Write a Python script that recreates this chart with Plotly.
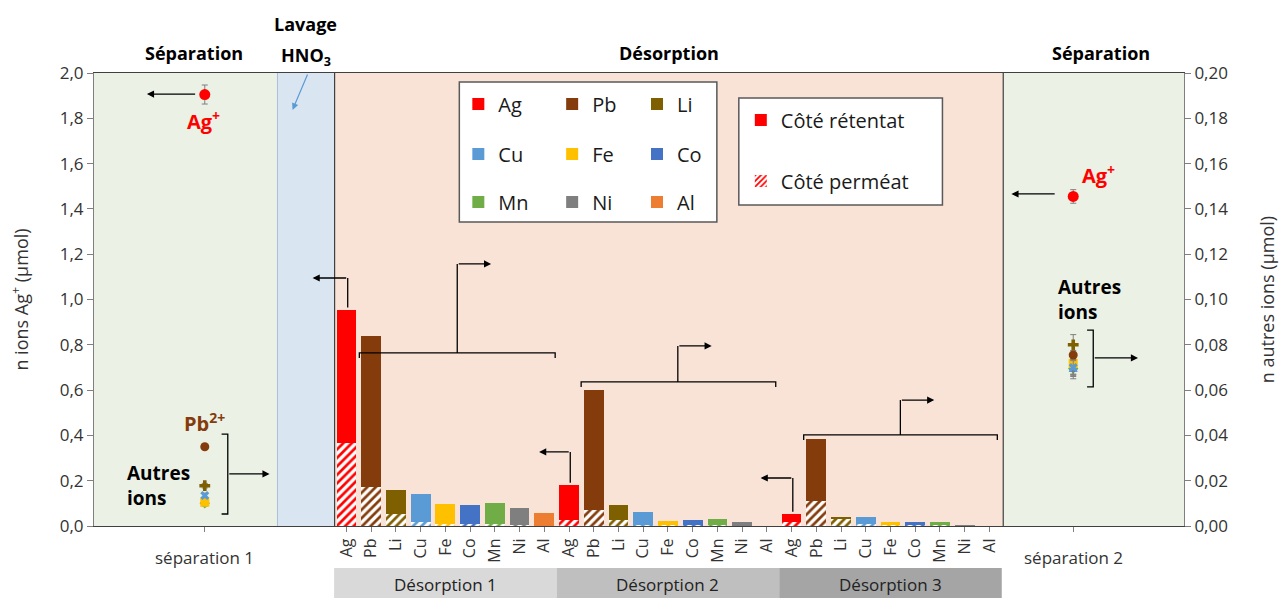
import plotly.graph_objects as go

# ---------------- data ----------------
ions = ["Ag", "Pb", "Li", "Cu", "Fe", "Co", "Mn", "Ni", "Al"]
ion_colors = ["#ff0000", "#843c0c", "#7f6000", "#5b9bd5", "#ffc000",
              "#4472c4", "#70ad47", "#7f7f7f", "#ed7d31"]
desorptions = ["Désorption 1", "Désorption 2", "Désorption 3"]
band_colors = ["#d9d9d9", "#bfbfbf", "#a5a5a5"]

# Ag in µmol on the left axis, other ions in µmol on the right axis
retentate_d1 = [0.589, 0.0665, 0.0107, 0.0121, 0.0087, 0.0081, 0.0092, 0.0076, 0.0059]
permeate_d1 = [0.366, 0.0174, 0.0052, 0.0019, 0.0010, 0.0010, 0.0010, 0.0005, 0.0]
retentate_d2 = [0.155, 0.0527, 0.0068, 0.0055, 0.0019, 0.0022, 0.0027, 0.0016, 0.0]
permeate_d2 = [0.026, 0.0072, 0.0025, 0.0005, 0.0003, 0.0003, 0.0003, 0.0, 0.0]
retentate_d3 = [0.035, 0.0274, 0.0010, 0.0030, 0.0013, 0.0013, 0.0015, 0.0004, 0.0]
permeate_d3 = [0.018, 0.0110, 0.0030, 0.0010, 0.0003, 0.0003, 0.0003, 0.0, 0.0]

sep1_vals = [1.905, 0.0350, 0.0178, 0.0135, 0.0105, 0.0110, 0.0100, 0.0103, 0.0098]
sep1_err = [0.042, 0.0008, 0.0010, 0.0010, 0.0010, 0.0010, 0.0010, 0.0010, 0.0010]
sep2_vals = [1.455, 0.0755, 0.0800, 0.0700, 0.0718, 0.0690, 0.0695, 0.0700, 0.0700]
sep2_err = [0.030, 0.0020, 0.0045, 0.0030, 0.0030, 0.0030, 0.0030, 0.0030, 0.0050]
sep_labels = ["séparation 1", "séparation 2"]
marker_symbols = ["circle", "circle", "cross", "x", "square", "triangle-up",
                  "diamond", "circle", "triangle-up"]
marker_sizes = [11, 9, 9, 8, 9, 8, 8, 6, 6]

retentate = [retentate_d1, retentate_d2, retentate_d3]
permeate = [permeate_d1, permeate_d2, permeate_d3]

# ---------------- layout constants (x in "bar slot" units) ----------------
n_ions = len(ions)
X_RANGE = [-10.21, 33.87]
SEP1_X, SEP2_X = -5.73, 29.39
REG_SEP1 = [-10.21, -2.79]
REG_LAV = [-2.79, -0.48]
REG_DES = [-0.48, 26.56]
REG_SEP2 = [26.56, 33.87]
FONT = "Open Sans"
PLOT_L, PLOT_R, PLOT_T, PLOT_B = 94, 1186, 73, 526
W, H = 1287, 598


def px_x(px):
    return (px - PLOT_L) / (PLOT_R - PLOT_L)


def px_y(py):
    return (PLOT_B - py) / (PLOT_B - PLOT_T)


fig = go.Figure()

# ---------------- bars ----------------
for i, ion in enumerate(ions):
    xs = [d * n_ions + i for d in range(len(desorptions))]
    perm = [permeate[d][i] for d in range(len(desorptions))]
    ret = [retentate[d][i] for d in range(len(desorptions))]
    yax = "y" if i == 0 else "y2"
    fig.add_trace(go.Bar(
        x=xs, y=perm, base=[0] * len(xs), width=0.8, yaxis=yax,
        marker=dict(color="white", line=dict(width=0),
                    pattern=dict(shape="/", fgcolor=ion_colors[i], bgcolor="white",
                                 size=6, solidity=0.45, fillmode="replace")),
        showlegend=False, name=ion + " perméat"))
    fig.add_trace(go.Bar(
        x=xs, y=ret, base=perm, width=0.8, yaxis=yax,
        marker=dict(color=ion_colors[i], line=dict(width=0)),
        name=ion, legend="legend" if i == 0 else "legend%d" % (i + 1),
        showlegend=True))

# legend-only traces for the side (rétentat / perméat)
fig.add_trace(go.Bar(x=[None], y=[None], name="Côté rétentat",
                     marker=dict(color="#ff0000", line=dict(width=0)),
                     legend="legend10", showlegend=True))
fig.add_trace(go.Bar(x=[None], y=[None], name="Côté perméat",
                     marker=dict(color="white", line=dict(width=0),
                                 pattern=dict(shape="/", fgcolor="#ff0000", bgcolor="white",
                                              size=5, solidity=0.45, fillmode="replace")),
                     legend="legend11", showlegend=True))

# ---------------- separation points ----------------
for i in reversed(range(n_ions)):
    yax = "y" if i == 0 else "y2"
    fig.add_trace(go.Scatter(
        x=[SEP1_X, SEP2_X], y=[sep1_vals[i], sep2_vals[i]], yaxis=yax,
        mode="markers",
        marker=dict(symbol=marker_symbols[i], size=marker_sizes[i], color=ion_colors[i],
                    line=dict(width=0)),
        error_y=dict(type="data", array=[sep1_err[i], sep2_err[i]], color="#808080",
                     thickness=1, width=3),
        showlegend=False))

# ---------------- shapes ----------------
shapes = []
regions = [(REG_SEP1, "#ebf1e5"), (REG_LAV, "#dae5f2"),
           (REG_DES, "#f9e3d6"), (REG_SEP2, "#ebf1e5")]
for (x0, x1), fc in regions:
    shapes.append(dict(type="rect", xref="x", yref="paper", x0=x0, x1=x1, y0=0, y1=1,
                       fillcolor=fc, line=dict(width=0), layer="below"))
for xv in [REG_DES[0], REG_DES[1]]:
    shapes.append(dict(type="line", xref="x", yref="paper", x0=xv, x1=xv, y0=0, y1=1,
                       line=dict(color="#404040", width=1.2), layer="below"))
shapes.append(dict(type="line", xref="x", yref="paper", x0=REG_LAV[0], x1=REG_LAV[0],
                   y0=0, y1=1, line=dict(color="#a9bfd9", width=1), layer="below"))

# bottom bands
for d, lab in enumerate(desorptions):
    shapes.append(dict(type="rect", xref="x", yref="paper",
                       x0=d * n_ions - 0.5, x1=(d + 1) * n_ions - 0.5,
                       y0=px_y(598), y1=px_y(568),
                       fillcolor=band_colors[d], line=dict(width=0), layer="below"))

# legend boxes
shapes.append(dict(type="rect", xref="paper", yref="paper", x0=px_x(460), x1=px_x(718),
                   y0=px_y(222), y1=px_y(82), fillcolor="white",
                   line=dict(color="#595959", width=1.5)))
shapes.append(dict(type="rect", xref="paper", yref="paper", x0=px_x(740), x1=px_x(944),
                   y0=px_y(205), y1=px_y(98), fillcolor="white",
                   line=dict(color="#595959", width=1.5)))

LINE = dict(color="#000000", width=1.3)
tk = 0.022
# separation 1 bracket
shapes.append(dict(type="path", xref="x", yref="y",
                   path="M -5.05,0.406 L -4.80,0.406 L -4.80,0.053 L -5.05,0.053", line=LINE))
# separation 2 bracket
shapes.append(dict(type="path", xref="x", yref="y",
                   path="M 29.95,0.865 L 30.20,0.865 L 30.20,0.614 L 29.95,0.614", line=LINE))
# desorption brackets (horizontal) with vertical stem
brackets = [(0.52, 8.44, 0.764, 4.48, 1.157), (9.49, 17.36, 0.636, 13.40, 0.795),
            (18.49, 26.32, 0.402, 22.40, 0.556)]
for x0, x1, yb, xc, yt in brackets:
    shapes.append(dict(type="path", xref="x", yref="y",
                       path="M %f,%f L %f,%f L %f,%f L %f,%f" % (x0, yb - tk, x0, yb, x1, yb, x1, yb - tk),
                       line=LINE))
    shapes.append(dict(type="line", xref="x", yref="y", x0=xc, x1=xc, y0=yb, y1=yt, line=LINE))
# Ag elbow stems in desorption
ag_stems = [(0, 1.095), (9, 0.327), (18, 0.212)]
for d, (xa, yt) in enumerate(ag_stems):
    top = retentate[d][0] + permeate[d][0]
    shapes.append(dict(type="line", xref="x", yref="y", x0=xa + 0.05, x1=xa + 0.05,
                       y0=top + 0.01, y1=yt, line=LINE))

fig.update_layout(shapes=shapes)

# ---------------- annotations ----------------
ann = []


def arrow(x, y, ax, ay, color="#000000", width=1.3):
    ann.append(dict(x=x, y=y, ax=ax, ay=ay, xref="x", yref="y", axref="x", ayref="y",
                    text="", showarrow=True, arrowhead=2, arrowsize=1.1,
                    arrowwidth=width, arrowcolor=color))


arrow(-8.07, 1.907, -6.06, 1.907)
arrow(-3.11, 0.230, -4.80, 0.230)
arrow(-1.37, 1.095, 0.05, 1.095)
arrow(7.79, 0.327, 9.05, 0.327)
arrow(16.75, 0.212, 18.05, 0.212)
for x0, x1, yb, xc, yt in brackets:
    arrow(xc + 1.37, yt, xc, yt)
arrow(26.89, 1.466, 28.70, 1.466)
arrow(32.01, 0.742, 30.20, 0.742)
arrow(-2.18, 1.837, -1.55, 2.0, color="#5b9bd5", width=1.2)


def text(x, y, s, size=19, color="#000000", xref="x", yref="y", xanchor="center",
         yanchor="middle", align="center"):
    ann.append(dict(x=x, y=y, xref=xref, yref=yref, text=s, showarrow=False,
                    font=dict(family=FONT, size=size, color=color),
                    xanchor=xanchor, yanchor=yanchor, align=align))


text(-5.77, 1.79, "<b>Ag<sup>+</sup></b>", size=20, color="#ff0000")
text(-5.73, 0.459, "<b>Pb<sup>2+</sup></b>", size=20, color="#843c0c")
text(-8.96, 0.18, "<b>Autres<br>ions</b>", size=19, xanchor="left", align="left")
text(30.4, 1.55, "<b>Ag<sup>+</sup></b>", size=20, color="#ff0000")
text(28.7, 0.998, "<b>Autres<br>ions</b>", size=19, xanchor="left", align="left")

# top titles
text(-6.15, px_y(53), "<b>Séparation</b>", size=18, yref="paper")
text(-1.65, px_y(24), "<b>Lavage</b>", size=18, yref="paper")
text(-1.65, px_y(56), "<b>HNO<sub>3</sub></b>", size=18, yref="paper")
text(13.05, px_y(53), "<b>Désorption</b>", size=18, yref="paper")
text(30.5, px_y(53), "<b>Séparation</b>", size=18, yref="paper")

# bottom labels
text(SEP1_X, px_y(557), sep_labels[0], size=17, yref="paper", color="#333333")
text(SEP2_X, px_y(557), sep_labels[1], size=17, yref="paper", color="#333333")
for d, lab in enumerate(desorptions):
    text(d * n_ions + (n_ions - 1) / 2, px_y(584), lab, size=17, yref="paper", color="#222222")

fig.update_layout(annotations=ann)

# ---------------- legends ----------------
swatch_x = [479, 573, 658]
row_y = [104, 154, 202]
legends = {}
for i in range(n_ions):
    r, c = divmod(i, 3)
    key = "legend" if i == 0 else "legend%d" % (i + 1)
    legends[key] = dict(x=px_x(swatch_x[c] - 20), y=px_y(row_y[r]), xanchor="left",
                        yanchor="middle", bgcolor="rgba(0,0,0,0)", borderwidth=0,
                        font=dict(family=FONT, size=20, color="#1a1a1a"))
legends["legend10"] = dict(x=px_x(742), y=px_y(120), xanchor="left", yanchor="middle",
                           bgcolor="rgba(0,0,0,0)", borderwidth=0,
                           font=dict(family=FONT, size=20, color="#1a1a1a"))
legends["legend11"] = dict(x=px_x(742), y=px_y(181), xanchor="left", yanchor="middle",
                           bgcolor="rgba(0,0,0,0)", borderwidth=0,
                           font=dict(family=FONT, size=20, color="#1a1a1a"))
fig.update_layout(**legends)

# ---------------- axes ----------------
tickvals = [d * n_ions + i for d in range(len(desorptions)) for i in range(n_ions)]
ticktext = [ions[i] for d in range(len(desorptions)) for i in range(n_ions)]
tickvals += [SEP1_X, SEP2_X]
ticktext += [" ", " "]

fig.update_layout(
    width=W, height=H,
    margin=dict(l=PLOT_L, r=W - PLOT_R, t=PLOT_T, b=H - PLOT_B, pad=0),
    paper_bgcolor="white", plot_bgcolor="white",
    separators=", ",
    barmode="overlay",
    bargap=0,
    font=dict(family=FONT, size=17, color="#333333"),
    xaxis=dict(range=X_RANGE, tickvals=tickvals, ticktext=ticktext, tickangle=-90,
               ticks="outside", ticklen=5, tickcolor="#7f7f7f", showline=True,
               linecolor="#404040", linewidth=1.2, mirror=True, showgrid=False,
               zeroline=False, tickfont=dict(family=FONT, size=16, color="#333333")),
    yaxis=dict(range=[0, 2], dtick=0.2, tickformat=".1f", ticks="outside", ticklen=6,
               tickcolor="#7f7f7f", showline=True, linecolor="#7f7f7f", showgrid=False,
               zeroline=False, tickfont=dict(family=FONT, size=17, color="#333333"),
               title=dict(text="n ions Ag<sup>+</sup> (µmol)", standoff=26,
                          font=dict(family=FONT, size=18, color="#333333"))),
    yaxis2=dict(range=[0, 0.2], dtick=0.02, tickformat=".2f", overlaying="y", side="right",
                ticks="outside", ticklen=6, tickcolor="#7f7f7f", showline=True,
                linecolor="#7f7f7f", showgrid=False, zeroline=False,
                tickfont=dict(family=FONT, size=17, color="#333333"),
                title=dict(text="n autres ions (µmol)", standoff=34,
                           font=dict(family=FONT, size=18, color="#333333"))),
)

fig.write_html("out.html", config={"displayModeBar": False},
               post_script="document.body.style.margin='0';document.body.style.overflow='hidden';")
